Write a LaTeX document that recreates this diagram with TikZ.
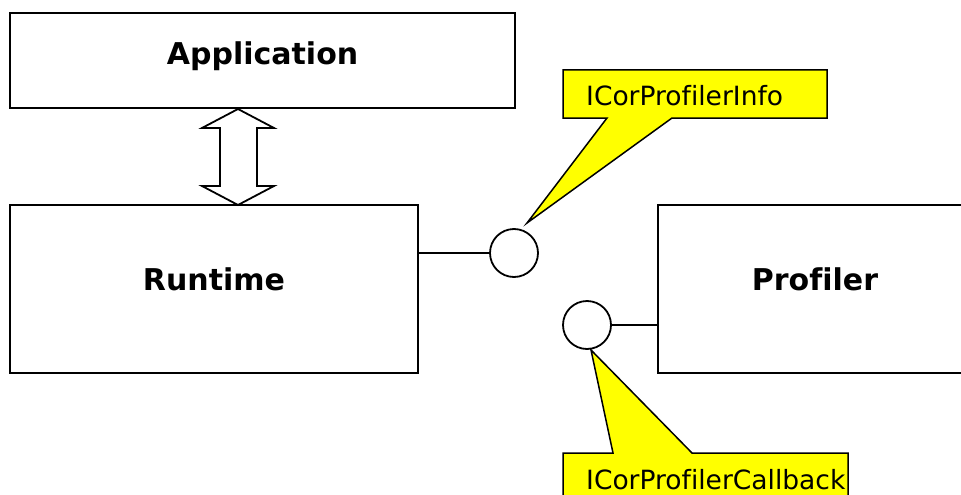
\documentclass[tikz,border=0pt]{standalone}
\usepackage{fontspec}
\setmainfont[Ligatures=NoCommon]{DejaVu Sans}
\definecolor{calloutyellow}{RGB}{255,255,0}
\begin{document}
\begin{tikzpicture}[x=1pt,y=-1pt,
  box/.style={draw,line width=1.8pt,fill=white,inner sep=0pt},
  boxtext/.style={font=\fontsize{30}{30}\selectfont\bfseries,inner sep=0pt,anchor=base},
  lolly/.style={draw,circle,line width=1.8pt,fill=white,minimum size=48pt,inner sep=0pt},
  conn/.style={line width=1.8pt},
  callout/.style={draw,line width=1.5pt,fill=calloutyellow,line join=miter},
  calltext/.style={font=\fontsize{26.5}{26.5}\selectfont,inner sep=0pt,anchor=base west}]
\useasboundingbox (0,0) rectangle (961,495);
\clip (0,0) rectangle (961,495);
\fill[white] (0,0) rectangle (961,495);
% boxes
\node[box,minimum width=505pt,minimum height=95pt] (app) at (262.5,60.5) {};
\node[box,minimum width=408pt,minimum height=168pt] (rt) at (214,289) {};
\node[box,minimum width=314pt,minimum height=168pt] (prof) at (815,289) {};
\node[boxtext] (appt) at (262.5,65) {Application};
\node[boxtext] (rtt) at (214,290) {Runtime};
\node[boxtext] (proft) at (815,290) {Profiler};
% double arrow
\draw[line width=1.8pt,fill=white,line join=miter]
  (238,109) -- (274,128) -- (257,128) -- (257,186) -- (274,186) -- (238,205)
  -- (202,186) -- (220,186) -- (220,128) -- (202,128) -- cycle;
% lollipops
\node[lolly] (c1) at (514,253) {};
\node[lolly] (c2) at (587,325) {};
\coordinate (rtport) at (418,253);
\coordinate (profport) at (658,325);
\coordinate (tip1) at (527,223);
\coordinate (tip2) at (591,350);
\draw[conn] (rtport) -- (c1.west);
\draw[conn] (c2.east) -- (profport);
% callout 1
\draw[callout] (563,70) -- (827,70) -- (827,118) -- (672,118) -- (tip1) -- (607,118) -- (563,118) -- cycle;
\node[calltext] (info) at (586,106) {ICorProfilerInfo};
% callout 2
\draw[callout] (563,453) -- (613,453) -- (tip2) -- (692,453) -- (848,453) -- (848,510) -- (563,510) -- cycle;
\node[calltext] (cb) at (586,489) {ICorProfilerCallback};
\end{tikzpicture}
\end{document}
